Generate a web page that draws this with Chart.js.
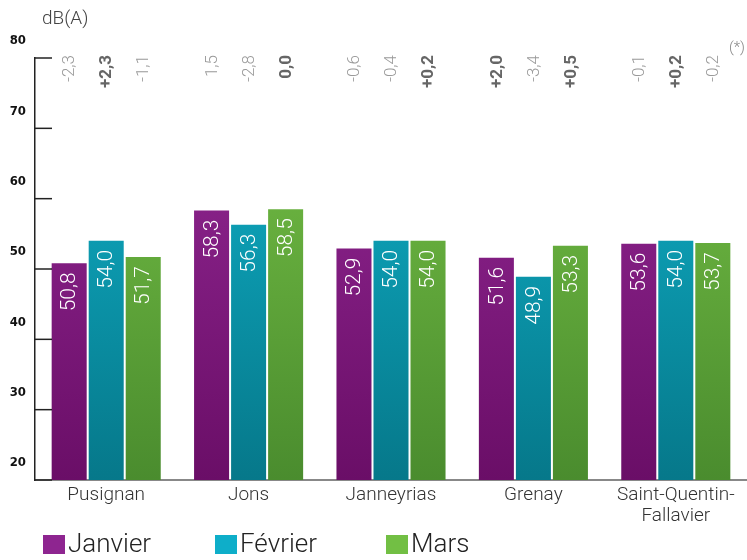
<!DOCTYPE html>
<html>
<head>
<meta charset="utf-8">
<script src="https://cdn.jsdelivr.net/npm/chart.js@4"></script>
<style>
  html, body { margin: 0; padding: 0; background: #fff; }
  #wrap { width: 747px; height: 560px; }
</style>
</head>
<body>
<div id="wrap"><canvas id="chartCanvas"></canvas></div>
<script>
const sites = ['Pusignan', 'Jons', 'Janneyrias', 'Grenay', ['Saint-Quentin-', 'Fallavier']];
const months = ['Janvier', 'Février', 'Mars'];

const janvier = [50.8, 58.3, 52.9, 51.6, 53.6];
const fevrier = [54.0, 56.3, 54.0, 48.9, 54.0];
const mars = [51.7, 58.5, 54.0, 53.3, 53.7];

// écarts affichés au-dessus des barres
const ecartJanvier = ['-2,3', '1,5', '-0,6', '+2,0', '-0,1'];
const ecartFevrier = ['+2,3', '-2,8', '-0,4', '-3,4', '+0,2'];
const ecartMars = ['-1,1', '0,0', '+0,2', '+0,5', '-0,2'];
const grasJanvier = [false, false, false, true, false];
const grasFevrier = [true, false, false, false, true];
const grasMars = [false, true, true, true, false];

const yTicks = [20, 30, 40, 50, 60, 70, 80];

const ecarts = [ecartJanvier, ecartFevrier, ecartMars];
const gras = [grasJanvier, grasFevrier, grasMars];
const legendColors = ['#8e2590', '#0eaec9', '#72bf44'];

function gradient(top, bottom) {
  return context => {
    const { ctx, chartArea } = context.chart;
    if (!chartArea) return top;
    const g = ctx.createLinearGradient(0, chartArea.top, 0, chartArea.bottom);
    g.addColorStop(0, top);
    g.addColorStop(1, bottom);
    return g;
  };
}

const fmt = v => v.toFixed(1).replace('.', ',');

const overlay = {
  id: 'overlay',
  afterDatasetsDraw(chart) {
    const { ctx, chartArea, scales: { y } } = chart;
    ctx.save();

    // petits traits de graduation vers l'intérieur
    ctx.strokeStyle = '#222';
    ctx.lineWidth = 1.5;
    y.ticks.forEach(t => {
      const py = y.getPixelForValue(t.value);
      ctx.beginPath();
      ctx.moveTo(chartArea.left, py);
      ctx.lineTo(chartArea.left + 17, py);
      ctx.stroke();
    });

    chart.data.datasets.forEach((ds, di) => {
      const meta = chart.getDatasetMeta(di);
      meta.data.forEach((bar, i) => {
        ctx.save();
        ctx.translate(bar.x, bar.y + 9);
        ctx.rotate(-Math.PI / 2);
        ctx.textAlign = 'right';
        ctx.textBaseline = 'middle';
        ctx.fillStyle = '#ffffff';
        ctx.font = '300 21px Roboto';
        ctx.fillText(fmt(ds.data[i]), 0, 1);
        ctx.restore();

        ctx.save();
        ctx.translate(bar.x, chartArea.top - 3);
        ctx.rotate(-Math.PI / 2);
        ctx.textAlign = 'right';
        ctx.textBaseline = 'middle';
        if (gras[di][i]) {
          ctx.fillStyle = '#666';
          ctx.font = 'bold 17px Roboto';
        } else {
          ctx.fillStyle = '#999';
          ctx.font = '300 17px Roboto';
        }
        ctx.fillText(ecarts[di][i], 0, 1);
        ctx.restore();
      });
    });

    ctx.fillStyle = '#444';
    ctx.font = '300 19px Roboto';
    ctx.textAlign = 'left';
    ctx.textBaseline = 'middle';
    ctx.fillText('dB(A)', 42, 19);

    ctx.fillStyle = '#888';
    ctx.font = '300 15px Roboto';
    ctx.textAlign = 'right';
    ctx.fillText('(*)', 745, 48);

    // légende en bas, espacement fixe
    const legendX = [43, 215, 386];
    ctx.textAlign = 'left';
    ctx.font = '300 26px Roboto';
    chart.data.datasets.forEach((ds, di) => {
      ctx.fillStyle = legendColors[di];
      ctx.fillRect(legendX[di], 535, 22, 19);
      ctx.fillStyle = '#222';
      ctx.fillText(ds.label, legendX[di] + 25, 545);
    });
    ctx.restore();
  }
};

const ctx = document.getElementById('chartCanvas').getContext('2d');
const chart = new Chart(ctx, {
  type: 'bar',
  data: {
    labels: sites,
    datasets: [
      { label: months[0], data: janvier, backgroundColor: gradient('#952a97', '#6a0e67') },
      { label: months[1], data: fevrier, backgroundColor: gradient('#10b4cc', '#06788a') },
      { label: months[2], data: mars, backgroundColor: gradient('#78c347', '#4a8c2e') }
    ]
  },
  options: {
    responsive: true,
    maintainAspectRatio: false,
    animation: false,
    categoryPercentage: 0.78,
    barPercentage: 0.946,
    layout: { padding: { top: 58, left: 0, right: 0, bottom: 28 } },
    plugins: {
      tooltip: { enabled: false },
      legend: { display: false }
    },
    scales: {
      x: {
        afterFit: scale => { scale.height = 52; },
        grid: { display: false },
        border: { color: '#888', width: 2 },
        ticks: {
          color: '#333',
          padding: -3,
          maxRotation: 0,
          autoSkip: false,
          font: { family: 'Roboto', weight: '300', size: 19, lineHeight: 1.1 }
        }
      },
      y: {
        min: 20,
        max: 80,
        afterFit: scale => { scale.width = 35; },
        afterBuildTicks: scale => { scale.ticks = yTicks.map(v => ({ value: v })); },
        grid: { display: false, drawTicks: false },
        border: { color: '#222', width: 1.5 },
        ticks: {
          color: '#111',
          padding: 9,
          labelOffset: -17,
          font: { family: 'DejaVu Sans Condensed', weight: 'bold', size: 13 }
        }
      }
    }
  },
  plugins: [overlay]
});
</script>
</body>
</html>
